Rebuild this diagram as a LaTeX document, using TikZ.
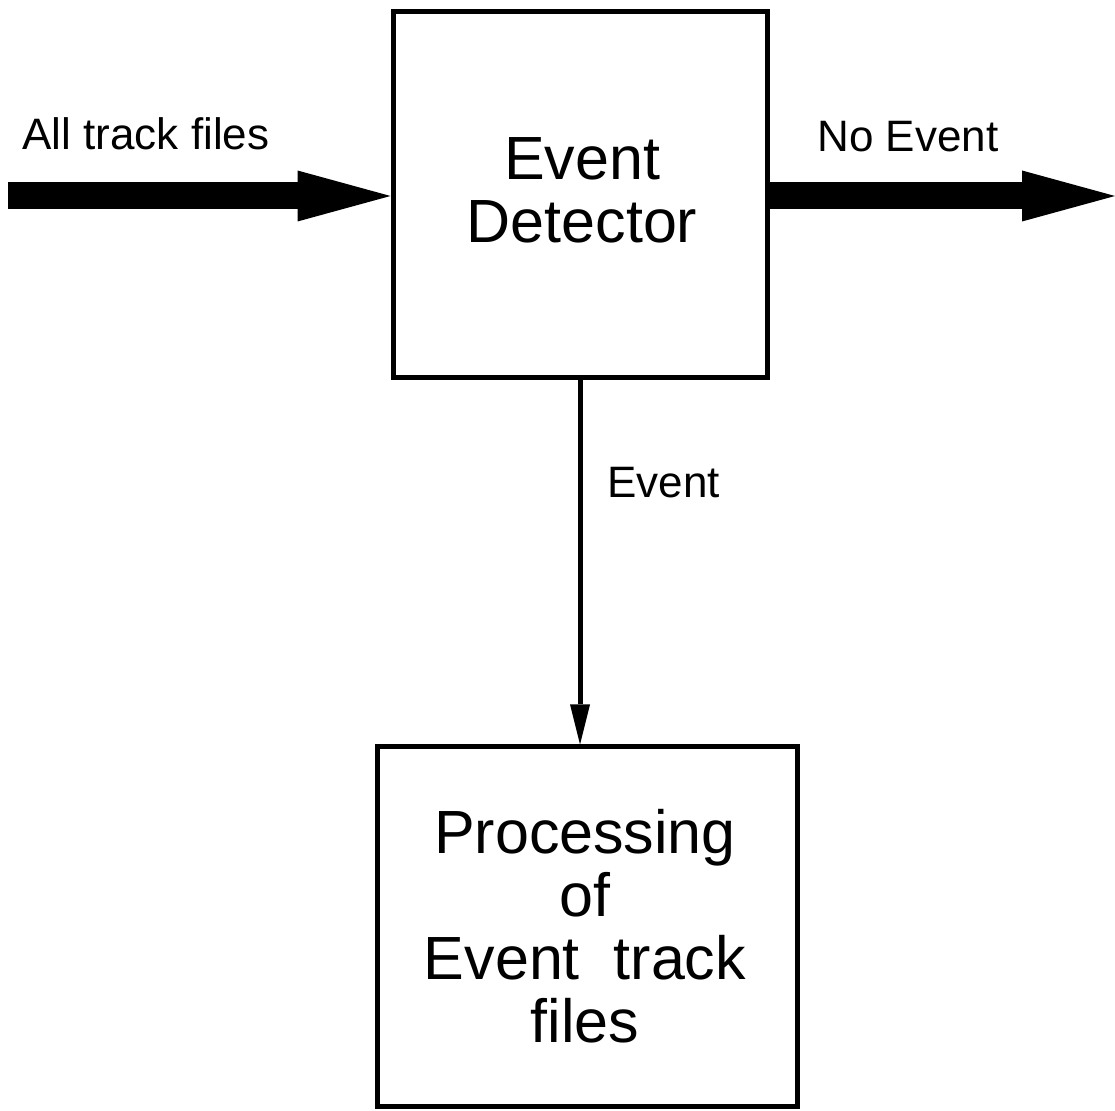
\documentclass[tikz,border=0pt]{standalone}
\usepackage{fontspec}
\setmainfont{Liberation Sans}
\usetikzlibrary{arrows.meta}
\begin{document}
\begin{tikzpicture}[x=0.5pt,y=-0.5pt,
  boxnode/.style={draw=black,line width=2.5pt,rectangle,inner sep=0pt},
  boxtext/.style={align=center,inner sep=0pt,font=\fontsize{30.5}{31.5}\selectfont},
  lbl/.style={anchor=base west,inner sep=0pt,font=\fontsize{22}{26}\selectfont},
  thick arrow/.style={line width=13.5pt,-{Triangle[length=46.5pt,width=25.5pt,line width=0pt]}},
  thin arrow/.style={line width=2.5pt,-{Triangle[length=20pt,width=10pt,line width=0pt]}}]
\useasboundingbox (0,0) rectangle (1115,1111);
\node[boxnode,minimum width=187pt,minimum height=183pt] (det) at (580,195) {};
\node[boxtext] (dettext) at (582,190) {Event\\Detector};
\node[boxnode,minimum width=210pt,minimum height=180pt] (proc) at (587,927) {};
\node[boxtext] (proctext) at (585,926) {Processing\\of\\Event\ \ track\\files};
\coordinate (inL) at (8,196);
\coordinate (outR) at (1115,196);
\draw[thick arrow] (inL) -- (inL -| det.west);
\draw[thick arrow] (outR -| det.east) -- (outR);
\draw[thin arrow] (det.south -| 580,0) -- (proc.north -| 580,0);
\node[lbl] (l1) at (22,150) {All track files};
\node[lbl] (l2) at (817,152) {No Event};
\node[lbl] (l3) at (607,498) {Event};
\end{tikzpicture}
\end{document}
